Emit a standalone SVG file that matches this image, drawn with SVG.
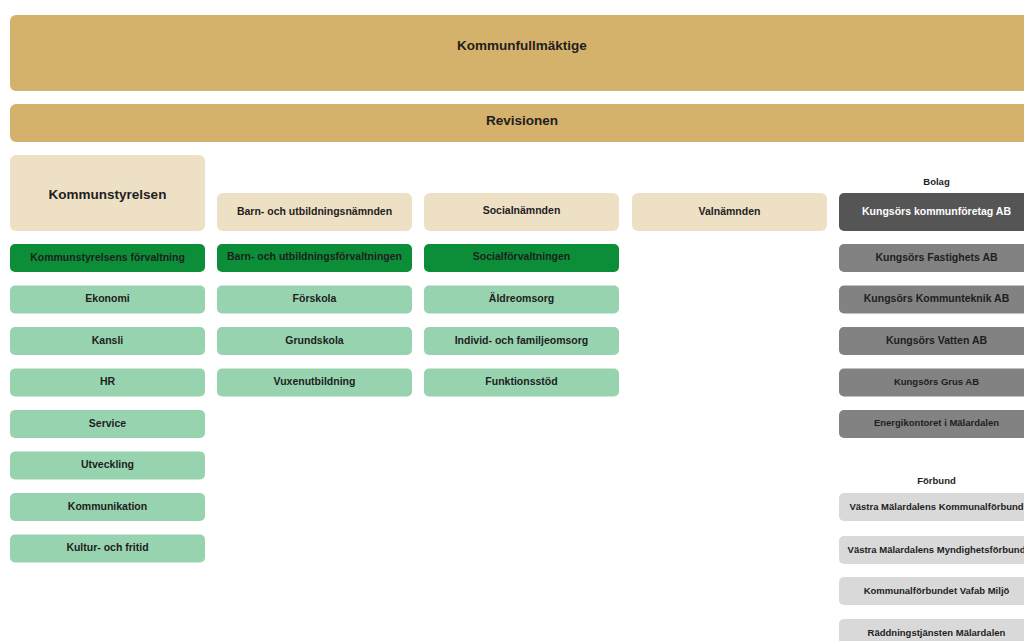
<svg xmlns="http://www.w3.org/2000/svg" width="1024" height="641" viewBox="0 0 1024 641">
<style>
text{font-family:"Liberation Sans",Arial,sans-serif;font-weight:bold;text-anchor:middle;fill:#1e1e1e;}
.gold{fill:#D5B26B;}
.beige{fill:#EEE0C5;}
.green{fill:#0C8E38;}
.lg{fill:#98D3AF;}
.dg{fill:#555555;}
.g{fill:#828282;}
.lgr{fill:#D9D9D9;}
.t{font-size:10.5px;}
.s{font-size:9.5px;}
.big{font-size:13.5px;}
.w{fill:#ffffff;}
</style>
<rect width="1024" height="641" fill="#ffffff"/>
<g id="kommunfullmaktige"><rect class="gold" x="10" y="15" width="1024" height="76" rx="6"/><text class="big" x="522" y="50">Kommunfullmäktige</text></g>
<g id="revisionen"><rect class="gold" x="10" y="104" width="1024" height="38" rx="6"/><text class="big" x="522" y="125">Revisionen</text></g>

<g id="kommunstyrelsen"><rect class="beige" x="10" y="155" width="195" height="76" rx="6"/><text class="big" x="107.5" y="199">Kommunstyrelsen</text></g>
<g id="bun"><rect class="beige" x="217" y="193" width="195" height="38" rx="6"/><text class="t" x="314.5" y="215">Barn- och utbildningsnämnden</text></g>
<g id="socialnamnden"><rect class="beige" x="424" y="193" width="195" height="38" rx="6"/><text class="t" x="521.5" y="214">Socialnämnden</text></g>
<g id="valnamnden"><rect class="beige" x="632" y="193" width="195" height="38" rx="6"/><text class="t" x="729.5" y="215">Valnämnden</text></g>

<g id="ksf"><rect class="green" x="10" y="244" width="195" height="28" rx="5"/><text class="t" x="107.5" y="261">Kommunstyrelsens förvaltning</text></g>
<g id="buf"><rect class="green" x="217" y="244" width="195" height="28" rx="5"/><text class="t" x="314.5" y="260">Barn- och utbildningsförvaltningen</text></g>
<g id="sf"><rect class="green" x="424" y="244" width="195" height="28" rx="5"/><text class="t" x="521.5" y="260">Socialförvaltningen</text></g>

<g id="ekonomi"><rect class="lg" x="10" y="285.5" width="195" height="28" rx="5"/><text class="t" x="107.5" y="302">Ekonomi</text></g>
<g id="kansli"><rect class="lg" x="10" y="327" width="195" height="28" rx="5"/><text class="t" x="107.5" y="343.5">Kansli</text></g>
<g id="hr"><rect class="lg" x="10" y="368.5" width="195" height="28" rx="5"/><text class="t" x="107.5" y="385">HR</text></g>
<g id="service"><rect class="lg" x="10" y="410" width="195" height="28" rx="5"/><text class="t" x="107.5" y="426.5">Service</text></g>
<g id="utveckling"><rect class="lg" x="10" y="451.5" width="195" height="28" rx="5"/><text class="t" x="107.5" y="468">Utveckling</text></g>
<g id="kommunikation"><rect class="lg" x="10" y="493" width="195" height="28" rx="5"/><text class="t" x="107.5" y="509.5">Kommunikation</text></g>
<g id="kultur"><rect class="lg" x="10" y="534.5" width="195" height="28" rx="5"/><text class="t" x="107.5" y="551">Kultur- och fritid</text></g>

<g id="forskola"><rect class="lg" x="217" y="285.5" width="195" height="28" rx="5"/><text class="t" x="314.5" y="302">Förskola</text></g>
<g id="grundskola"><rect class="lg" x="217" y="327" width="195" height="28" rx="5"/><text class="t" x="314.5" y="343.5">Grundskola</text></g>
<g id="vuxen"><rect class="lg" x="217" y="368.5" width="195" height="28" rx="5"/><text class="t" x="314.5" y="385">Vuxenutbildning</text></g>

<g id="aldre"><rect class="lg" x="424" y="285.5" width="195" height="28" rx="5"/><text class="t" x="521.5" y="302">Äldreomsorg</text></g>
<g id="ifo"><rect class="lg" x="424" y="327" width="195" height="28" rx="5"/><text class="t" x="521.5" y="343.5">Individ- och familjeomsorg</text></g>
<g id="funktion"><rect class="lg" x="424" y="368.5" width="195" height="28" rx="5"/><text class="t" x="521.5" y="385">Funktionsstöd</text></g>

<g id="bolag-label"><text class="s" x="936.5" y="184.5">Bolag</text></g>
<g id="kkab"><rect class="dg" x="839" y="193" width="195" height="38" rx="5"/><text class="t w" x="936.5" y="215">Kungsörs kommunföretag AB</text></g>
<g id="fastighets"><rect class="g" x="839" y="244" width="195" height="28" rx="5"/><text class="t" x="936.5" y="260.5">Kungsörs Fastighets AB</text></g>
<g id="kommunteknik"><rect class="g" x="839" y="285.5" width="195" height="28" rx="5"/><text class="t" x="936.5" y="302">Kungsörs Kommunteknik AB</text></g>
<g id="vatten"><rect class="g" x="839" y="327" width="195" height="28" rx="5"/><text class="t" x="936.5" y="343.5">Kungsörs Vatten AB</text></g>
<g id="grus"><rect class="g" x="839" y="368.5" width="195" height="28" rx="5"/><text class="s" x="936.5" y="384.5">Kungsörs Grus AB</text></g>
<g id="energi"><rect class="g" x="839" y="410" width="195" height="28" rx="5"/><text class="s" x="936.5" y="426">Energikontoret i Mälardalen</text></g>

<g id="forbund-label"><text class="s" x="936.5" y="483.5">Förbund</text></g>
<g id="vmkf"><rect class="lgr" x="839" y="493" width="195" height="28" rx="5"/><text class="s" x="936.5" y="509.5">Västra Mälardalens Kommunalförbund</text></g>
<g id="vmmf"><rect class="lgr" x="839" y="536" width="195" height="28" rx="5"/><text class="s" x="936.5" y="552.5">Västra Mälardalens Myndighetsförbund</text></g>
<g id="vafab"><rect class="lgr" x="839" y="577" width="195" height="28" rx="5"/><text class="s" x="936.5" y="593.5">Kommunalförbundet Vafab Miljö</text></g>
<g id="raddning"><rect class="lgr" x="839" y="619" width="195" height="28" rx="5"/><text class="s" x="936.5" y="635.5">Räddningstjänsten Mälardalen</text></g>
<g id="connectors"></g>
</svg>
